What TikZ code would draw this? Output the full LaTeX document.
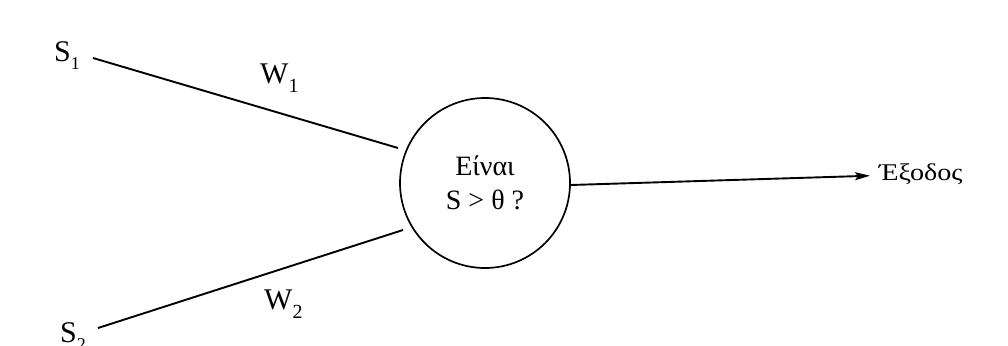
\documentclass[tikz,border=0pt]{standalone}
\usepackage{fontspec}
\setmainfont{Liberation Serif}
\usetikzlibrary{arrows.meta}
\newcommand{\lowsub}[3]{\raisebox{#3}{\fontsize{#2}{#2}\selectfont #1}}
\begin{document}
\begin{tikzpicture}[x=1pt,y=-1pt,
  wire/.style={line width=1.9pt},
  lbl/.style={inner sep=0pt,anchor=base west,font=\fontsize{30}{32}\selectfont},
  unit/.style={circle,draw,line width=1.7pt,minimum size=170pt,inner sep=0pt,align=center,font=\fontsize{28}{34}\selectfont},
  outlbl/.style={inner sep=0pt,anchor=base west,font=\fontsize{24}{28}\selectfont}]
\useasboundingbox (0,0) rectangle (1008,345);
\node[unit] (c) at (485,183) {Είναι\\S > θ ?};
\node[lbl] (s1) at (54,62) {S\lowsub{1}{18}{-8pt}};
\node[lbl] (w1) at (260,83) {W\lowsub{1}{20}{-9pt}};
\node[lbl] (s2) at (60,342) {S\lowsub{2}{18}{-8pt}};
\node[lbl] (w2) at (264,309) {W\lowsub{2}{20}{-9pt}};
\node[outlbl] (out) at (879,180) {\scalebox{1.17}[1]{Έξοδος}};
\coordinate (b1) at (93,58);
\coordinate (a1) at (398,148);
\coordinate (b2) at (98,328);
\coordinate (a2) at (403,230);
\draw[wire] (b1) -- (a1);
\draw[wire] (b2) -- (a2);
\draw[wire,-{Stealth[length=15pt,width=8pt,inset=3pt]}] ([yshift=-2pt]c.east) -- ([xshift=-9pt,yshift=-2pt]out.west);
\end{tikzpicture}
\end{document}
